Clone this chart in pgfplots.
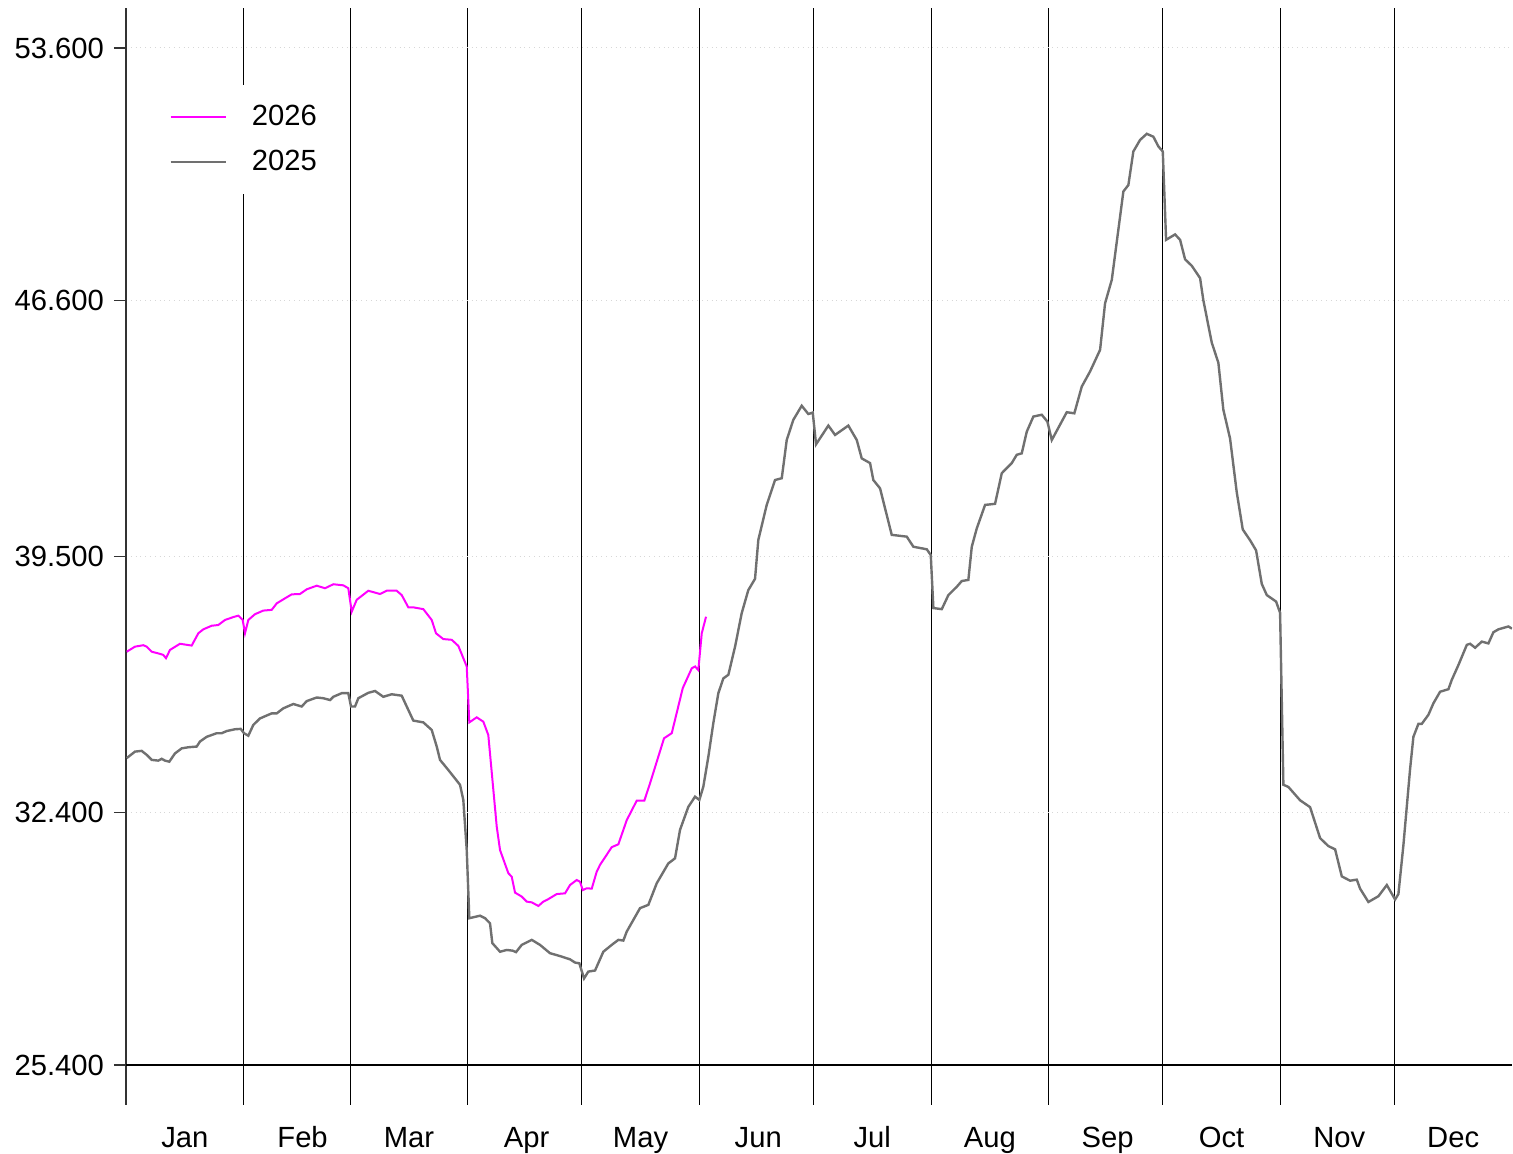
\documentclass[border=0pt]{standalone}
\usepackage{pgfplots}
\pgfplotsset{compat=1.18}
\usepackage{fontspec}
\setmainfont{Liberation Sans}
\definecolor{ser25}{RGB}{112,112,112}
\definecolor{ser26}{RGB}{255,0,255}
\definecolor{gridgray}{RGB}{215,215,215}

\begin{document}
\begin{tikzpicture}
\path[use as bounding box] (-63pt,-24.5pt) rectangle (693.5pt,552.5pt);
\begin{axis}[
  scale only axis, width=693pt, height=548.5pt,
  xmin=0, xmax=365, ymin=24.291, ymax=54.709,
  axis lines*=left,
  x axis line style={draw=none},
  y axis line style={draw=black!80, line width=0.7pt},
  tick align=outside,
  xtick={0,31,59,90,120,151,181,212,243,273,304,334},
  xticklabels={},
  xtick style={draw=none},
  xmajorgrids,
  x grid style={black, line width=0.5pt},
  extra x ticks={15.5,46.5,74.5,105.5,135.5,166.5,196.5,227.5,258.5,288.5,319.5,349.5},
  extra x tick labels={Jan,Feb,Mar,Apr,May,Jun,Jul,Aug,Sep,Oct,Nov,Dec},
  extra x tick style={grid=none, major tick length=0pt, tick style={draw=none}},
  xticklabel style={yshift=-7pt, text height=10.5pt, text depth=3pt},
  ytick={32.4,39.5,46.6,53.6},
  ymajorgrids,
  y grid style={gridgray, dotted, line width=0.5pt},
  extra y ticks={25.4},
  extra y tick style={grid=major, y grid style={black, solid, line width=0.6pt}},
  ytick style={black!80, line width=0.6pt},
  major tick length=6pt,
  /pgf/number format/assume math mode=true,
  yticklabel style={xshift=-1.5pt, /pgf/number format/.cd, fixed, fixed zerofill, precision=3, /tikz/.cd},
  tick label style={font=\fontsize{14.6pt}{17pt}\selectfont, text=black},
  legend style={at={(rel axis cs:0.0195,0.930)}, anchor=north west, draw=none, fill=white,
    font=\fontsize{14.6pt}{17pt}\selectfont, row sep=7pt, inner xsep=8pt, inner ysep=8pt,
    /tikz/every odd column/.append style={column sep=10.5pt}},
  legend cell align=left,
  legend image code/.code={\draw[#1] (0pt,0pt) -- (27.5pt,0pt);},
]
\addplot[ser26, line width=1pt] table {
x y
0.2 36.86
2.37 37.00
4.56 37.04
5.45 37.00
6.77 36.86
8.95 36.80
9.82 36.77
10.53 36.68
11.59 36.91
14.22 37.08
17.30 37.03
19.04 37.37
20.36 37.48
22.57 37.58
24.31 37.60
26.07 37.74
28.26 37.82
29.58 37.86
30.73 37.74
31.34 37.37
32.21 37.74
33.97 37.90
36.16 38.00
38.37 38.02
39.69 38.20
41.87 38.34
43.64 38.45
45.82 38.46
47.59 38.59
50.22 38.69
52.41 38.62
54.60 38.73
57.23 38.70
58.54 38.62
59.44 37.97
60.76 38.30
63.81 38.55
66.89 38.46
68.66 38.55
71.29 38.55
72.61 38.43
74.35 38.09
75.66 38.09
78.30 38.04
80.51 37.74
81.64 37.37
83.56 37.21
85.78 37.19
87.52 37.02
89.73 36.45
90.41 34.90
92.36 35.04
94.10 34.92
95.41 34.55
97.63 32.01
98.50 31.36
100.68 30.72
101.58 30.62
102.45 30.18
104.21 30.07
105.53 29.93
106.85 29.91
108.59 29.81
109.90 29.93
111.22 30.00
113.43 30.14
115.62 30.16
116.93 30.39
118.70 30.53
119.57 30.48
120.28 30.25
121.33 30.30
122.65 30.29
123.96 30.76
124.84 30.95
127.91 31.44
129.66 31.52
131.87 32.19
134.50 32.73
136.50 32.73
138.00 33.21
141.69 34.46
143.72 34.60
146.62 35.85
148.99 36.40
149.86 36.45
150.72 36.35
151.62 37.37
152.75 37.83
};
\addlegendentry{2026}
\addplot[ser25, line width=1.2pt] table {
x y
0.2 33.91
2.37 34.09
4.13 34.11
5.45 34.00
6.77 33.86
8.51 33.84
9.40 33.89
10.27 33.84
11.40 33.81
12.90 34.04
14.67 34.18
16.41 34.21
18.62 34.23
19.49 34.37
21.25 34.50
23.89 34.60
25.20 34.60
26.52 34.66
28.71 34.71
30.21 34.72
31.08 34.60
32.21 34.53
33.53 34.83
35.29 35.01
38.37 35.15
39.69 35.15
41.43 35.29
44.06 35.41
46.27 35.34
47.59 35.49
50.22 35.59
51.96 35.57
53.73 35.52
54.60 35.61
56.81 35.71
58.54 35.71
59.26 35.34
60.31 35.34
61.18 35.57
63.81 35.72
65.58 35.77
67.76 35.61
69.98 35.68
72.61 35.64
73.93 35.34
75.66 34.95
78.30 34.90
80.51 34.69
81.83 34.23
82.70 33.86
84.88 33.58
87.96 33.17
88.83 32.75
89.73 31.36
90.41 29.47
93.23 29.54
94.55 29.47
95.86 29.33
96.47 28.78
98.50 28.54
100.26 28.59
101.84 28.57
102.71 28.53
104.21 28.73
106.85 28.87
109.03 28.73
111.66 28.50
114.30 28.42
116.93 28.33
118.25 28.24
119.38 28.22
120.62 27.80
121.75 27.99
123.52 28.02
125.70 28.54
127.91 28.73
129.66 28.87
130.97 28.85
131.87 29.10
135.37 29.75
137.55 29.84
139.77 30.44
142.82 30.99
144.58 31.13
145.90 31.92
148.09 32.56
149.86 32.84
150.99 32.75
152.04 33.12
153.36 33.95
154.67 34.88
155.99 35.71
157.31 36.12
158.63 36.22
160.39 37.00
162.15 37.93
163.89 38.57
165.65 38.88
166.52 39.96
168.73 40.93
170.92 41.62
172.69 41.67
174.00 42.73
175.74 43.29
177.95 43.68
179.69 43.45
180.85 43.49
181.72 42.61
184.96 43.13
186.73 42.87
190.22 43.13
192.44 42.73
193.75 42.22
195.94 42.09
196.81 41.62
198.57 41.39
201.65 40.10
205.61 40.05
207.35 39.77
210.88 39.70
211.93 39.54
212.62 38.07
214.83 38.04
216.57 38.43
218.78 38.66
220.10 38.82
221.83 38.85
222.73 39.77
224.05 40.28
226.23 40.93
228.86 40.96
230.63 41.81
233.26 42.09
234.58 42.32
235.89 42.36
237.21 42.96
238.95 43.38
241.16 43.43
242.64 43.24
243.80 42.73
247.74 43.50
249.74 43.47
251.69 44.21
253.88 44.63
256.52 45.23
257.83 46.52
259.60 47.17
262.65 49.62
263.97 49.80
265.28 50.73
267.05 51.05
268.81 51.22
270.55 51.14
271.87 50.87
273.03 50.73
273.90 48.28
276.27 48.43
277.59 48.28
278.90 47.74
280.67 47.56
282.85 47.22
283.72 46.60
285.93 45.43
287.67 44.87
288.98 43.57
290.75 42.77
292.51 41.28
294.09 40.25
296.02 39.95
297.60 39.67
299.10 38.74
300.42 38.43
302.87 38.25
303.92 37.94
304.79 33.17
306.11 33.11
309.19 32.74
311.82 32.55
314.46 31.69
316.64 31.47
318.41 31.38
320.17 30.63
322.36 30.51
324.12 30.54
324.99 30.29
327.18 29.92
329.81 30.08
332.03 30.39
334.21 29.99
335.08 30.14
336.40 31.50
338.16 33.61
339.03 34.50
340.35 34.86
341.24 34.86
342.98 35.11
344.30 35.43
346.06 35.75
348.25 35.82
349.14 36.08
350.88 36.49
353.10 37.05
353.96 37.08
355.28 36.97
357.04 37.14
358.78 37.09
360.10 37.40
361.42 37.48
364.05 37.56
365.00 37.50
};
\addlegendentry{2025}
\end{axis}
\end{tikzpicture}
\end{document}
